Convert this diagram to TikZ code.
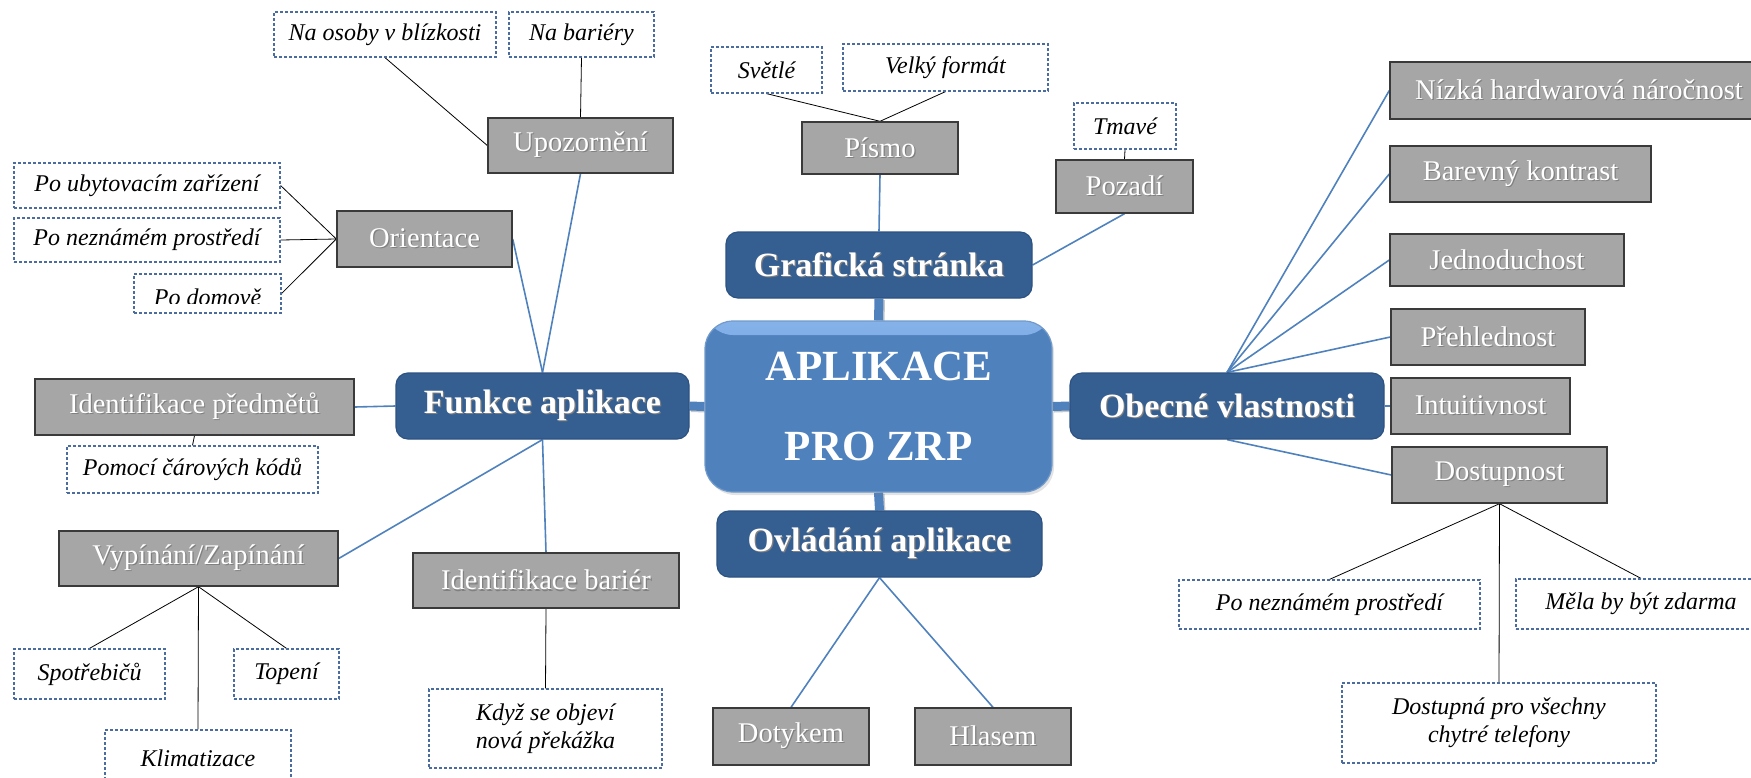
\documentclass[tikz,border=0pt]{standalone}
\usepackage{fontspec}
\setmainfont{Liberation Serif}
\usetikzlibrary{shadows}

\definecolor{hubblue}{HTML}{4F81BD}
\definecolor{hublight}{HTML}{86B2EA}
\definecolor{mainblue}{HTML}{365F91}
\definecolor{mainedge}{HTML}{2C5282}
\definecolor{linkblue}{HTML}{4F81BD}
\definecolor{boxgray}{HTML}{A6A6A6}
\definecolor{grayedge}{HTML}{3A3A3A}
\definecolor{dashblue}{HTML}{4A6C9E}

% white text with a soft dark shadow
\newcommand\shd[1]{\makebox[0pt][l]{\kern1.2pt\raisebox{-1.2pt}{\textcolor{black!50}{#1}}}#1}

% box given by its corners: name, style, x1, y1, x2, y2, text
\newcommand\boxat[7]{%
  \node[#2, minimum width={(#5)-(#3)}, minimum height={(#6)-(#4)}]
    (#1) at ({((#3)+(#5))/2},{((#4)+(#6))/2}) {#7};}

\pgfdeclarelayer{links}
\pgfsetlayers{links,main}

\tikzset{
  graybox/.style={draw=grayedge, line width=1.4pt, fill=boxgray, text=white,
    inner sep=0pt, font=\fontsize{28.5}{32}\selectfont},
  dashbox/.style={draw=dashblue, line width=1.2pt, dash pattern=on 3pt off 2pt,
    fill=white, inner sep=0pt, align=center,
    font=\fontsize{24}{28}\selectfont\itshape},
  bluebox/.style={draw=mainedge, line width=1.2pt, fill=mainblue, text=white,
    rounded corners=12pt, inner sep=0pt,
    font=\fontsize{34}{38}\selectfont\bfseries},
  hubbox/.style={draw=hubblue!80!white, line width=1.2pt, fill=hubblue, text=white,
    rounded corners=28pt, inner sep=0pt, align=center,
    font=\fontsize{43}{80}\selectfont\bfseries,
    drop shadow={opacity=0.22, shadow xshift=2pt, shadow yshift=-3pt},
    path picture={\fill[top color=hublight, bottom color=hubblue]
      (path picture bounding box.north west) rectangle
      ([yshift=-14pt]path picture bounding box.north east);}},
  link/.style={draw=linkblue, line width=1.6pt},
  twig/.style={draw=black, line width=0.8pt},
  trunk/.style={draw=linkblue, line width=9pt,
    preaction={draw=black!22, line width=9pt,
      transform canvas={shift={(1.5pt,-1.5pt)}}}}
}

\begin{document}
\begin{tikzpicture}[x=1pt, y=-1pt]
\useasboundingbox (0,0) rectangle (1751,777);
\clip (0,0) rectangle (1751,777);

% ---- centre ----
\boxat{hub}{hubbox}{705}{321}{1052}{492}{APLIKACE\\PRO ZRP}
\boxat{graf}{bluebox}{726}{232}{1032}{298}{\shd{Grafická stránka}}
\boxat{ovl}{bluebox}{717}{511}{1042}{577}{\shd{Ovládání aplikace}}
\boxat{funkce}{bluebox}{396}{373}{689}{439}{\shd{Funkce aplikace}}
\boxat{obec}{bluebox}{1070}{373}{1384}{439}{\shd{Obecné vlastnosti}}

% ---- Funkce aplikace ----
\boxat{nabl}{dashbox}{274}{12}{496}{57}{Na osoby v blízkosti}
\boxat{nabar}{dashbox}{509}{12}{654}{57}{Na bariéry}
\boxat{upoz}{graybox}{488}{118}{673}{173}{\shd{Upozornění}}
\boxat{poub}{dashbox}{14}{163}{280}{208}{Po ubytovacím zařízení}
\boxat{ponez}{dashbox}{14}{218}{280}{262}{Po neznámém prostředí}
\boxat{podom}{dashbox}{134}{274}{281}{313}{}
\begin{scope}
  \clip (134,274) rectangle (281,303);
  \node[font=\fontsize{24}{28}\selectfont\itshape, anchor=base, inner sep=0pt]
    (podomtext) at (207.5,305) {Po domově};
\end{scope}
\boxat{orient}{graybox}{337}{211}{512}{267}{\shd{Orientace}}
\boxat{idpred}{graybox}{35}{379}{354}{435}{\shd{Identifikace předmětů}}
\boxat{pomoci}{dashbox}{67}{446}{318}{493}{Pomocí čárových kódů}
\boxat{vypin}{graybox}{59}{531}{338}{586}{\shd{Vypínání/Zapínání}}
\boxat{idbar}{graybox}{413}{553}{679}{608}{\shd{Identifikace bariér}}
\boxat{spotr}{dashbox}{14}{649}{165}{699}{Spotřebičů}
\boxat{topeni}{dashbox}{234}{649}{339}{699}{Topení}
\boxat{klima}{dashbox}{105}{730}{291}{786}{Klimatizace}
\boxat{kdyz}{dashbox}{429}{689}{662}{768}{Když se objeví\\nová překážka}

% ---- Grafická stránka ----
\boxat{svetle}{dashbox}{711}{47}{822}{93}{Světlé}
\boxat{velky}{dashbox}{843}{44}{1048}{91}{Velký formát}
\boxat{pismo}{graybox}{802}{122}{958}{174}{\shd{Písmo}}
\boxat{tmave}{dashbox}{1074}{103}{1176}{149}{Tmavé}
\boxat{pozadi}{graybox}{1056}{160}{1193}{213}{\shd{Pozadí}}

% ---- Ovládání aplikace ----
\boxat{dotyk}{graybox}{713}{708}{869}{765}{\shd{Dotykem}}
\boxat{hlas}{graybox}{915}{708}{1071}{765}{\shd{Hlasem}}

% ---- Obecné vlastnosti ----
\boxat{nizka}{graybox}{1390}{62}{1768}{119}{\shd{Nízká hardwarová náročnost}}
\boxat{barev}{graybox}{1390}{146}{1651}{202}{\shd{Barevný kontrast}}
\boxat{jedn}{graybox}{1390}{234}{1624}{286}{\shd{Jednoduchost}}
\boxat{prehl}{graybox}{1391}{309}{1585}{365}{\shd{Přehlednost}}
\boxat{intu}{graybox}{1391}{378}{1570}{434}{\shd{Intuitivnost}}
\boxat{dost}{graybox}{1392}{447}{1607}{503}{\shd{Dostupnost}}
\boxat{ponez2}{dashbox}{1179}{580}{1480}{629}{Po neznámém prostředí}
\boxat{mela}{dashbox}{1516}{579}{1766}{629}{Měla by být zdarma}
\boxat{dostup}{dashbox}{1342}{683}{1656}{763}{Dostupná pro všechny\\chytré telefony}

\begin{pgfonlayer}{links}
  % trunks from the centre
  \draw[trunk] (graf.south) -- (hub.north);
  \draw[trunk] (hub.south) -- (ovl.north);
  \draw[trunk] (hub.west) -- (funkce.east);
  \draw[trunk] (hub.east) -- (obec.west);

  % branches
  \draw[link] (upoz.south) -- (funkce.north);
  \draw[link] (orient.east) -- (funkce.north);
  \draw[link] (idpred.east) -- (funkce.west);
  \draw[link] (vypin.east) -- (funkce.south);
  \draw[link] (funkce.south) -- (idbar.north);
  \draw[link] (pismo.south) -- (graf.north);
  \draw[link] (pozadi.south) -- (graf.east);
  \draw[link] (ovl.south) -- (dotyk.north);
  \draw[link] (ovl.south) -- (hlas.north);
  \draw[link] (obec.north) -- (nizka.west);
  \draw[link] (obec.north) -- (barev.west);
  \draw[link] (obec.north) -- (jedn.west);
  \draw[link] (obec.north) -- (prehl.west);
  \draw[link] (obec.east) -- (intu.west);
  \draw[link] (obec.south) -- (dost.west);

  % leaves
  \draw[twig] (nabl.south) -- (upoz.west);
  \draw[twig] (nabar.south) -- (upoz.north);
  \draw[twig] (orient.west) -- (poub.east);
  \draw[twig] (orient.west) -- (ponez.east);
  \draw[twig] (orient.west) -- (podom.east);
  \draw[twig] (idpred.south) -- (pomoci.north);
  \draw[twig] (vypin.south) -- (spotr.north);
  \draw[twig] (vypin.south) -- (klima.north);
  \draw[twig] (vypin.south) -- (topeni.north);
  \draw[twig] (idbar.south) -- (kdyz.north);
  \draw[twig] (svetle.south) -- (pismo.north);
  \draw[twig] (velky.south) -- (pismo.north);
  \draw[twig] (tmave.south) -- (pozadi.north);
  \draw[twig] (dost.south) -- (ponez2.north);
  \draw[twig] (dost.south) -- (dostup.north);
  \draw[twig] (dost.south) -- (mela.north);
\end{pgfonlayer}
\end{tikzpicture}
\end{document}
